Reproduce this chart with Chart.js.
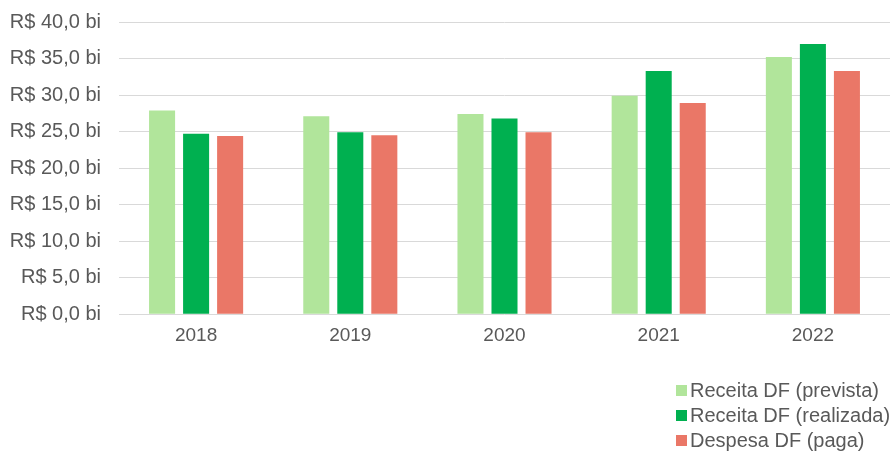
<!DOCTYPE html>
<html>
<head>
<meta charset="utf-8">
<script src="https://cdn.jsdelivr.net/npm/chart.js@4/dist/chart.umd.min.js"></script>
<style>
  body { margin: 0; background: #fff; }
  #wrap { position: relative; width: 891px; height: 453px; }
  #legend { position: absolute; left: 676px; top: 378px; font-family: "Liberation Sans", Arial, sans-serif; font-size: 20px; color: #595959; }
  #legend div { height: 25px; line-height: 25px; white-space: nowrap; }
  #legend span { display: inline-block; width: 11px; height: 11px; margin-right: 3px; vertical-align: 1px; }
</style>
</head>
<body>
<div id="wrap">
  <canvas id="chart" width="891" height="453"></canvas>
  <div id="legend"></div>
</div>
<script>
    // categories and series (R$ bilhões)
    var years = ['2018', '2019', '2020', '2021', '2022'];
    var receitaPrevista = [27.9, 27.1, 27.4, 29.9, 35.2];
    var receitaRealizada = [24.7, 24.9, 26.8, 33.3, 37.0];
    var despesaPaga = [24.4, 24.5, 24.9, 28.9, 33.3];
    var seriesNames = ['Receita DF (prevista)', 'Receita DF (realizada)', 'Despesa DF (paga)'];
    var seriesColors = ['#b1e59b', '#00b050', '#ea7767'];

    var allSeries = [receitaPrevista, receitaRealizada, despesaPaga];
    var datasets = allSeries.map(function(s, i) {
        return {
            label: seriesNames[i],
            data: s,
            backgroundColor: seriesColors[i],
            categoryPercentage: 0.662,
            barPercentage: 0.765
        };
    });

    var ctx = document.getElementById('chart').getContext('2d');
    var chart = new Chart(ctx, {
        type: 'bar',
        data: { labels: years, datasets: datasets },
        options: {
            responsive: false,
            animation: false,
            layout: { padding: { left: 0, right: 1, top: 0, bottom: 104 } },
            plugins: { legend: { display: false }, tooltip: { enabled: false } },
            scales: {
                x: {
                    grid: { display: false },
                    border: { display: false },
                    ticks: { color: '#595959', font: { family: 'Liberation Sans', size: 19 }, padding: 2 }
                },
                y: {
                    min: 0, max: 40,
                    border: { display: false },
                    grid: { color: '#d9d9d9', drawTicks: false, lineWidth: 1 },
                    afterFit: function(scale) {
                        scale.width = 119;
                        scale.paddingTop = 22;
                        scale.paddingBottom = 0;
                    },
                    ticks: {
                        stepSize: 5,
                        padding: 18,
                        color: '#595959',
                        font: { family: 'Liberation Sans', size: 20 },
                        callback: function(v) { return 'R$ ' + v.toFixed(1).replace('.', ',') + ' bi'; }
                    }
                }
            }
        }
    });

    // legend as a column at the bottom right
    var lg = document.getElementById('legend');
    seriesNames.forEach(function(n, i) {
        var d = document.createElement('div');
        d.innerHTML = '<span style="background:' + seriesColors[i] + '"></span>' + n;
        lg.appendChild(d);
    });
</script>
</body>
</html>
